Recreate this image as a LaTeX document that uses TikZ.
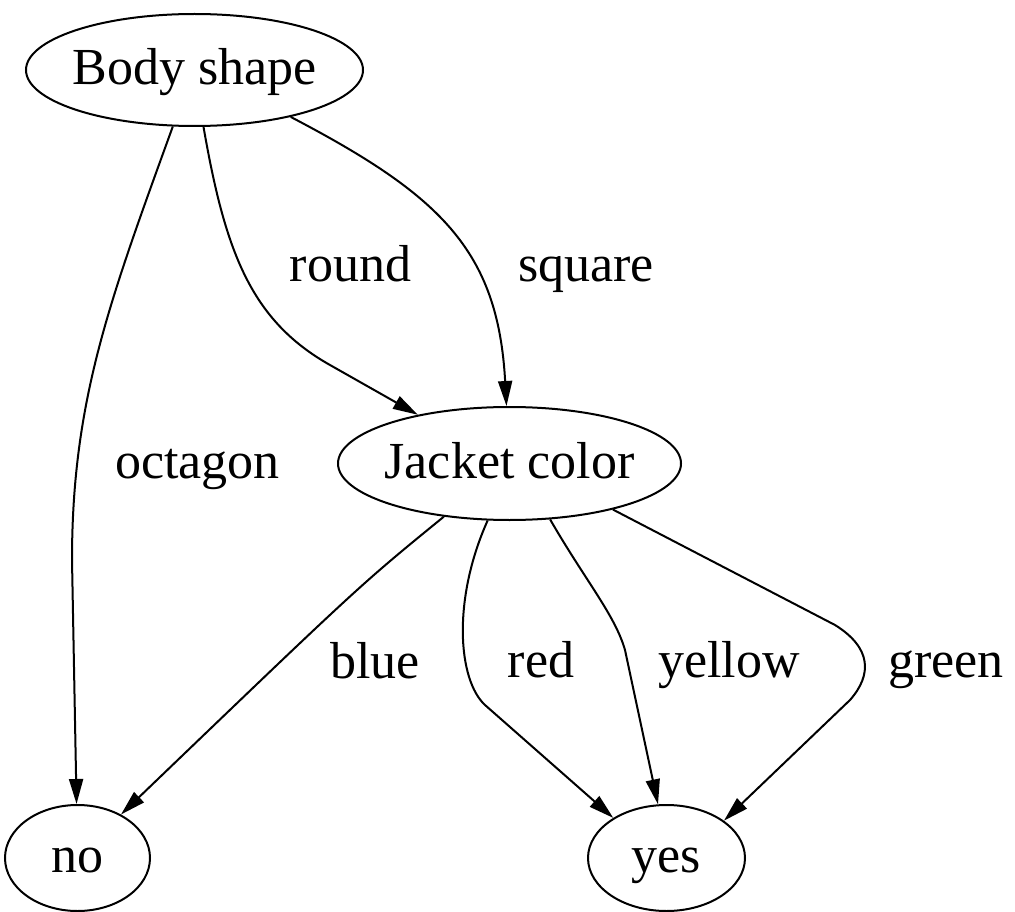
\documentclass[tikz,border=0pt]{standalone}
\usepackage{fontspec}
\setmainfont{Liberation Serif}
\usetikzlibrary{shapes.geometric, arrows.meta}

\begin{document}
\begin{tikzpicture}[
  x=1pt, y=-1pt,
  font=\fontsize{52}{60}\selectfont,
  state/.style={draw, ellipse, line width=2pt, inner xsep=-5pt, inner ysep=0pt, text height=37pt, text depth=8pt},
  arr/.style={-{Triangle[length=25pt, width=14pt]}, line width=2pt},
  lbl/.style={anchor=base, inner sep=0pt}
]
\useasboundingbox (0,0) rectangle (1015,912);

\node[state, minimum width=337pt, minimum height=112pt] (body) at (194.5,70) {Body shape};
\node[state, minimum width=343pt, minimum height=113pt] (jacket) at (509.5,463.5) {Jacket color};
\node[state, minimum width=145pt, minimum height=106pt] (no) at (77.5,858) {no};
\node[state, minimum width=157pt, minimum height=106pt] (yes) at (666.5,858) {yes};

\node[lbl] (octagon) at (197.5,478) {octagon};
\node[lbl] (round) at (350.5,282) {round};
\node[lbl] (square) at (586,282) {square};
\node[lbl] (blue) at (375,678) {blue};
\node[lbl] (red) at (541,677) {red};
\node[lbl] (yellow) at (729,677) {yellow};
\node[lbl] (green) at (946,677) {green};

\draw[arr] (body.249) .. controls (110,300) and (72,400) .. (72,560) -- (no.91);
\draw[arr] (body.279) .. controls (225,250) and (250,320) .. (330,365) -- (jacket.152);
\draw[arr] (body.334) .. controls (440,195) and (498,250) .. (jacket.93.5);
\draw[arr] (jacket.219) .. controls (360,585) .. (no.45);
\draw[arr] (jacket.249) .. controls (452,600) and (458,680) .. (485,705) -- (yes.143);
\draw[arr] (jacket.306) .. controls (585,580) and (615,615) .. (625,650) -- (yes.99);
\draw[arr] (jacket.336) -- (835,625) .. controls (872,648) and (872,675) .. (850,700) -- (yes.33);
\end{tikzpicture}
\end{document}
